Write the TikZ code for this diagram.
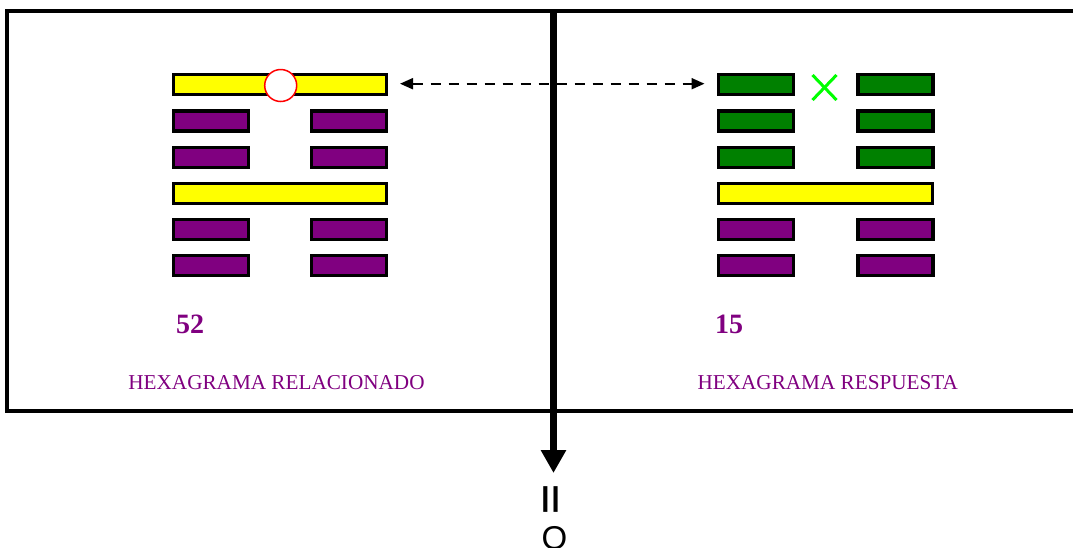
\documentclass[tikz,border=0pt]{standalone}
\usepackage{fontspec}
\setmainfont{Liberation Serif}
\newfontfamily\arialfont{Liberation Sans}
\usetikzlibrary{arrows.meta,calc}
\definecolor{hexpurple}{HTML}{800080}
\definecolor{hexgreen}{HTML}{008000}
\definecolor{hexyellow}{HTML}{FFFF00}
\definecolor{hexlime}{HTML}{00FF00}
\tikzset{
  barbase/.style={draw=black, line width=3.2pt, inner sep=0pt, outer sep=0pt, minimum height=20pt},
  yangbar/.style={barbase, fill=hexyellow, minimum width=213pt},
  yinpurple/.style={barbase, fill=hexpurple, minimum width=75pt},
  yingreen/.style={barbase, fill=hexgreen, minimum width=75pt},
  labeltext/.style={text=hexpurple, font=\fontsize{21.2}{25}\selectfont, inner sep=0pt},
  numtext/.style={text=hexpurple, font=\fontsize{28}{32}\selectfont\bfseries, inner sep=0pt, anchor=base west},
}
\begin{document}
\begin{tikzpicture}[x=1pt,y=-1pt]
\useasboundingbox (0,0) rectangle (1073,547);
% frame
\draw[line width=4pt] (1073,11) -- (7,11) -- (7,411) -- (1073,411);
% left hexagram (52)
\node[yangbar] (L1) at (280,84.7) {};
\node[yinpurple] (L2a) at (211,120.9) {};
\node[yinpurple] (L2b) at (349,120.9) {};
\node[yinpurple] (L3a) at (211,157.1) {};
\node[yinpurple] (L3b) at (349,157.1) {};
\node[yangbar] (L4) at (280,193.3) {};
\node[yinpurple] (L5a) at (211,229.5) {};
\node[yinpurple] (L5b) at (349,229.5) {};
\node[yinpurple] (L6a) at (211,265.7) {};
\node[yinpurple] (L6b) at (349,265.7) {};
\node[circle, draw=red, line width=1.5pt, fill=white, minimum size=32pt, inner sep=0pt] (circ) at (280.7,85.5) {};
% right hexagram (15)
\node[yingreen] (R1a) at (756,84.7) {};
\node[yingreen] (R1b) at (895.5,84.7) {};
\node[yingreen] (R2a) at (756,120.9) {};
\node[yingreen] (R2b) at (895.5,120.9) {};
\node[yingreen] (R3a) at (756,157.1) {};
\node[yingreen] (R3b) at (895.5,157.1) {};
\node[yangbar, minimum width=214pt] (R4) at (825.7,193.3) {};
\node[yinpurple] (R5a) at (756,229.5) {};
\node[yinpurple] (R5b) at (895.5,229.5) {};
\node[yinpurple] (R6a) at (756,265.7) {};
\node[yinpurple] (R6b) at (895.5,265.7) {};
% green cross
\coordinate (xc) at (824.5,87.5);
\draw[hexlime, line width=3pt] ($(xc)+(-12,-12.5)$) -- ($(xc)+(12,12.5)$);
\draw[hexlime, line width=3pt] ($(xc)+(12,-12.5)$) -- ($(xc)+(-12,12.5)$);
% dashed double arrow
\draw[line width=2pt, dash pattern=on 10pt off 8pt, {Triangle[length=13pt,width=11pt]}-{Triangle[length=13pt,width=11pt]}, shorten <=13.5pt, shorten >=14pt] ([yshift=1pt]L1.east) -- ([yshift=1pt]R1a.west);
% vertical thick arrow
\coordinate (vtop) at (553.5,11);
\coordinate (vbot) at (553.5,473);
\draw[line width=7pt, -{Triangle[length=23pt,width=24pt]}] (vtop) -- (vbot);
% numbers and labels
\node[numtext] (n52) at (176,333) {52};
\node[numtext] (n15) at (715,333) {15};
\node[labeltext, anchor=base] (lab1) at (276.5,389) {HEXAGRAMA RELACIONADO};
\node[labeltext, anchor=base] (lab2) at (827.8,389) {HEXAGRAMA RESPUESTA};
% bottom symbols
\node[inner sep=0pt, font=\arialfont\bfseries\fontsize{38}{42}\selectfont] (eq) at (554,499.5) {\rotatebox{90}{\scalebox{1.35}[1]{=}}};
\node[inner sep=0pt, anchor=base, font=\arialfont\fontsize{33}{36}\selectfont] (oh) at (554.5,549.5) {O};
\end{tikzpicture}
\end{document}
